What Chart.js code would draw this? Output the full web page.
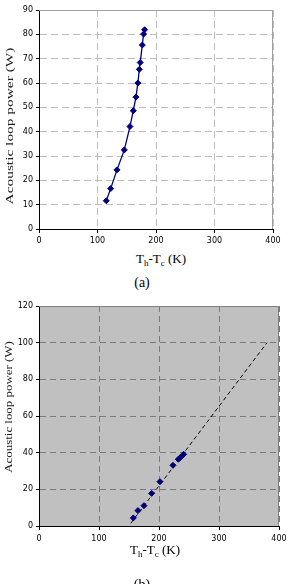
<!DOCTYPE html>
<html>
<head>
<meta charset="utf-8">
<script src="https://cdn.jsdelivr.net/npm/chart.js@4/dist/chart.umd.min.js"></script>
<style>
body { margin: 0; background: #fff; }
#page { position: relative; width: 294px; height: 584px; overflow: hidden;
  font-family: "Liberation Serif", "Times New Roman", serif; color: #000; }
.box { position: absolute; left: 0; width: 294px; height: 250px; }
.lbl { position: absolute; white-space: nowrap; }
.ytitle { font-size: 10px; line-height: 10px; color: #222; }
.xtitle { font-size: 13px; line-height: 13px; transform: translateX(-50%); }
.xtitle sub { font-size: 9px; vertical-align: -3px; line-height: 0; }
.cap { font-size: 14px; line-height: 14px; transform: translateX(-50%); }
</style>
</head>
<body>
<div id="page">
  <div class="box" style="top:0"><canvas id="chartA"></canvas></div>
  <div class="box" style="top:295px"><canvas id="chartB"></canvas></div>

  <div class="lbl ytitle" style="left:10px;top:126px;transform:translate(-50%,-50%) rotate(-90deg) scaleX(1.54)">Acoustic loop power (W)</div>
  <div class="lbl xtitle" style="left:161px;top:252px">T<sub>h</sub>-T<sub>c</sub> (K)</div>
  <div class="lbl cap" style="left:142px;top:276px">(a)</div>

  <div class="lbl ytitle" style="left:9px;top:407px;transform:translate(-50%,-50%) rotate(-90deg) scaleX(1.29)">Acoustic loop power (W)</div>
  <div class="lbl xtitle" style="left:155px;top:543px">T<sub>h</sub>-T<sub>c</sub> (K)</div>
  <div class="lbl cap" style="left:142px;top:578px">(b)</div>
</div>

<script>
// (a) measured points
var tempDiffA = [115, 122.5, 133.3, 145.8, 155.5, 161.2, 165.7, 169, 171.5, 173, 176.6, 178.8, 180.5];
var powerA = [11.6, 16.6, 24.3, 32.5, 42.1, 48.6, 54.2, 60, 65.6, 68.4, 75.6, 80.1, 81.9];

// (b) measured points and linear trend
var tempDiffB = [157.2, 164.9, 174.9, 187.7, 201.6, 223.3, 232.2, 235.5, 238.3, 241];
var powerB = [4.4, 8.4, 11.1, 17.8, 24.2, 33.1, 36.4, 37.3, 38.2, 39.1];
var trendX = [153, 380];
var trendY = [1.5, 100];

var xTicks = [0, 100, 200, 300, 400];
var yTicksA = [0, 10, 20, 30, 40, 50, 60, 70, 80, 90];
var yTicksB = [0, 20, 40, 60, 80, 100, 120];

function pairs(xs, ys) {
  return xs.map(function(x, i) { return {x: x, y: ys[i]}; });
}

Chart.defaults.font.family = "'DejaVu Sans', Verdana, sans-serif";
Chart.defaults.font.size = 8;
Chart.defaults.color = '#000';

// plot background and the grey top/right frame
var plotFrame = {
  id: 'plotFrame',
  beforeDraw: function(chart, args, o) {
    if (!o.fill) return;
    var a = chart.chartArea, ctx = chart.ctx;
    ctx.save();
    ctx.fillStyle = o.fill;
    ctx.fillRect(a.left, a.top, a.right - a.left, a.bottom - a.top);
    ctx.restore();
  },
  beforeDatasetsDraw: function(chart, args, o) {
    var a = chart.chartArea, ctx = chart.ctx;
    ctx.save();
    ctx.strokeStyle = o.color;
    ctx.lineWidth = 1;
    ctx.beginPath();
    ctx.moveTo(a.left, a.top + 0.5);
    ctx.lineTo(a.right - 0.5, a.top + 0.5);
    ctx.lineTo(a.right - 0.5, a.bottom);
    ctx.stroke();
    ctx.restore();
  }
};

function axes(yTicks, gridColor, dash, xHeight, xPad) {
  return {
    x: {
      type: 'linear', min: xTicks[0], max: xTicks[xTicks.length - 1],
      afterBuildTicks: function(s) { s.ticks = xTicks.map(function(v) { return {value: v}; }); },
      afterFit: function(s) { s.height = xHeight; },
      ticks: { padding: xPad },
      grid: { color: gridColor, tickColor: '#000', tickLength: 4 },
      border: { color: '#000', width: 1, dash: dash }
    },
    y: {
      type: 'linear', min: yTicks[0], max: yTicks[yTicks.length - 1],
      afterBuildTicks: function(s) { s.ticks = yTicks.map(function(v) { return {value: v}; }); },
      afterFit: function(s) { s.width = 39; },
      ticks: { padding: 3 },
      grid: { color: gridColor, tickColor: '#000', tickLength: 3 },
      border: { color: '#000', width: 1, dash: dash }
    }
  };
}

new Chart(document.getElementById('chartA'), {
  type: 'scatter',
  data: {
    datasets: [{
      data: pairs(tempDiffA, powerA),
      showLine: true,
      borderColor: '#000080',
      backgroundColor: '#000080',
      borderWidth: 1.3,
      pointStyle: 'rectRot',
      pointRadius: 3,
      pointBorderWidth: 1
    }]
  },
  options: {
    responsive: true,
    maintainAspectRatio: false,
    animation: false,
    layout: { padding: { top: 10, right: 21, bottom: 0, left: 0 } },
    plugins: { legend: { display: false }, tooltip: { enabled: false }, plotFrame: { color: '#a0a0a0' } },
    scales: axes(yTicksA, '#bcbcbc', [7, 4], 21, 3)
  },
  plugins: [plotFrame]
});

new Chart(document.getElementById('chartB'), {
  type: 'scatter',
  data: {
    datasets: [{
      data: pairs(trendX, trendY),
      showLine: true,
      borderColor: '#000',
      borderWidth: 1,
      borderDash: [4, 3],
      pointRadius: 0
    }, {
      data: pairs(tempDiffB, powerB),
      showLine: false,
      borderColor: '#000080',
      backgroundColor: '#000080',
      pointStyle: 'rectRot',
      pointRadius: 3,
      pointBorderWidth: 1
    }]
  },
  options: {
    responsive: true,
    maintainAspectRatio: false,
    animation: false,
    layout: { padding: { top: 11, right: 15, bottom: 0, left: 0 } },
    plugins: { legend: { display: false }, tooltip: { enabled: false }, plotFrame: { color: '#808080', fill: '#c0c0c0' } },
    scales: axes(yTicksB, '#7a7a7a', [6, 4], 19, 4)
  },
  plugins: [plotFrame]
});
</script>
</body>
</html>
